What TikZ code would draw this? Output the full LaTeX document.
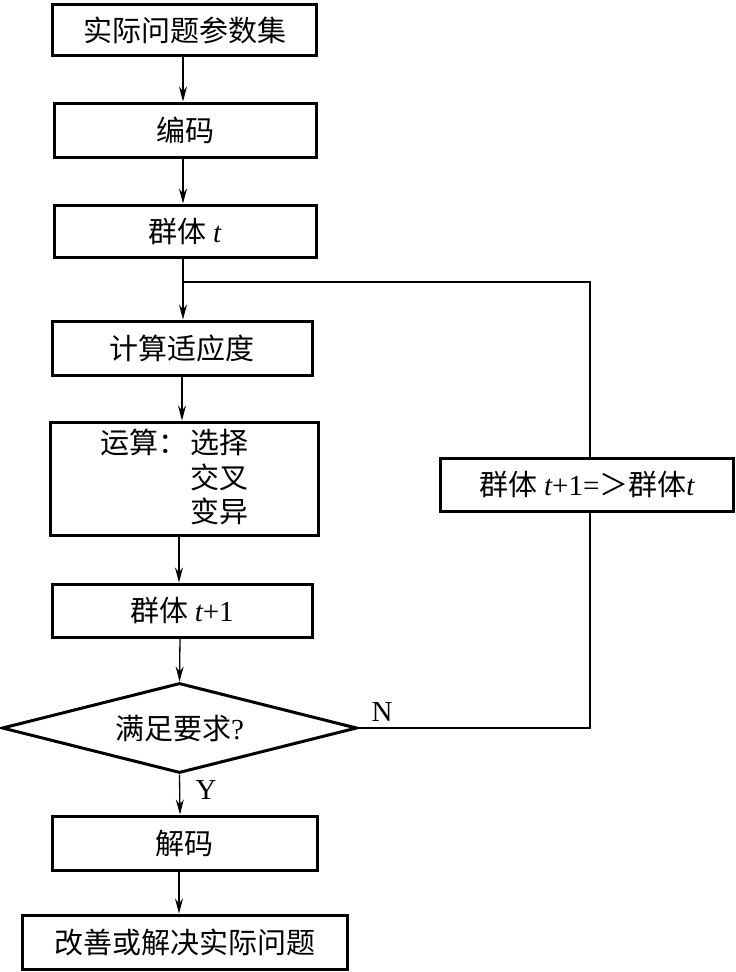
\documentclass[tikz,border=0pt]{standalone}
\usepackage{fontspec}
\setmainfont{Noto Sans CJK SC}
\newfontfamily\lat{Liberation Serif}
\usetikzlibrary{arrows.meta,shapes.geometric}
\newcommand{\ti}{{\lat\itshape t}}
\begin{document}
\begin{tikzpicture}[x=1pt,y=-1pt,
  every node/.style={font=\fontsize{29}{33}\selectfont},
  box/.style={draw,line width=3pt,rectangle,inner sep=0pt},
  dia/.style={draw,line width=3pt,diamond,inner sep=0pt,aspect=4},
  conn/.style={line width=1.3pt},
  arr/.style={conn,-{Stealth[length=15pt,width=8pt,inset=5pt]}},
  plain/.style={inner sep=0pt}]
\useasboundingbox (0,0) rectangle (736,972);
\node[box,minimum width=264pt,minimum height=51pt] (b1) at (184.5,30) {实际问题参数集};
\node[box,minimum width=262pt,minimum height=54pt] (b2) at (185,130) {编码};
\node[box,minimum width=262pt,minimum height=52pt] (b3) at (185,231) {群体 \ti};
\node[box,minimum width=260pt,minimum height=54pt] (b4) at (182,348) {计算适应度};
\node[box,minimum width=268pt,minimum height=113pt] (b5) at (184,478.5) {};
\node[plain,anchor=west] (ops) at (100,481) {\begin{tabular}{@{}l@{\hspace{3pt}}l@{}}运算：&选择\\&交叉\\&变异\end{tabular}};
\node[box,minimum width=260pt,minimum height=53pt] (b6) at (182,610.5) {群体 \ti{\lat +1}};
\node[dia,minimum width=355pt,minimum height=90pt] (d) at (179.5,728) {满足要求{\lat ?}};
\node[box,minimum width=265pt,minimum height=54pt] (b7) at (184.5,843) {解码};
\node[box,minimum width=325pt,minimum height=54pt] (b8) at (184.5,942) {改善或解决实际问题};
\node[box,minimum width=293pt,minimum height=53pt] (r) at (587,484.5) {群体 \ti{\lat +1=}＞群体\ti};
\node[plain] (N) at (382,712) {\lat N};
\node[plain] (Y) at (206,790) {\lat Y};
\coordinate (c183) at (183,0);
\coordinate (c182) at (182,0);
\coordinate (c179) at (179,0);
\coordinate (c180) at (180,0);
\coordinate (top) at (590,282);
\coordinate (corner) at (590,728);
\coordinate (join) at (183,282);
\draw[arr] (c183 |- b1.south) -- (c183 |- b2.north);
\draw[arr] (c183 |- b2.south) -- (c183 |- b3.north);
\draw[arr] (c183 |- b3.south) -- (c183 |- b4.north);
\draw[arr] (c182 |- b4.south) -- (c182 |- b5.north);
\draw[arr] (c179 |- b5.south) -- (c179 |- b6.north);
\draw[arr] (c180 |- b6.south) -- (d.north);
\draw[arr] (d.south) -- (c180 |- b7.north);
\draw[arr] (c179 |- b7.south) -- (c179 |- b8.north);
\draw[conn] (d.east) -- (corner) -- (r.south -| corner);
\draw[conn] (r.north -| top) -- (top) -- (join);
\end{tikzpicture}
\end{document}
